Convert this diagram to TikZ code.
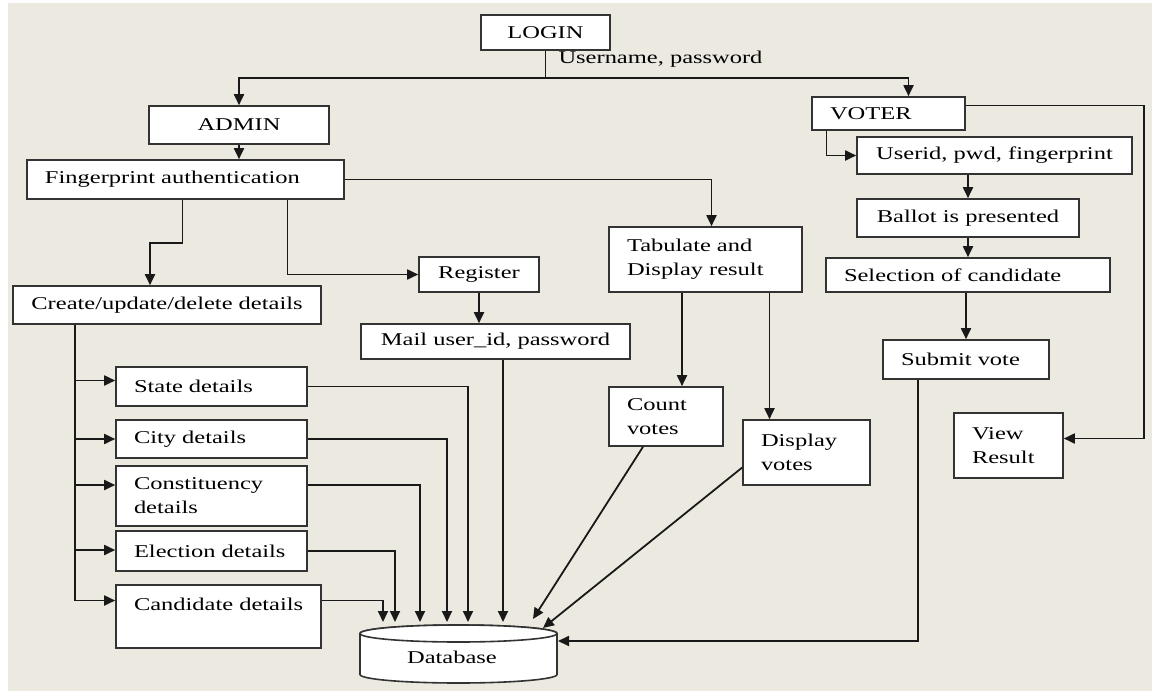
\documentclass[tikz,border=0pt]{standalone}
\usepackage{fontspec}
\setmainfont{Liberation Serif}[FakeStretch=1.36]
\usepackage{xcolor}
\usetikzlibrary{arrows.meta}

\definecolor{paper}{RGB}{236,234,224}
\newcommand{\boxfont}{\fontsize{18pt}{24pt}\selectfont}
\tikzset{
  box/.style={draw=black!80, fill=white, line width=1.6pt, font=\boxfont, inner ysep=2pt},
  cbox/.style={box, align=center},
  lbox/.style={box, align=left, inner xsep=18pt},
  flow/.style={line width=1.8pt, draw=black!90}
}

\begin{document}
\begin{tikzpicture}[x=1pt,y=-1pt,>={Triangle[length=11pt,width=10pt]}]
\useasboundingbox (0,0) rectangle (1152,691);
\fill[paper] (8,3) rectangle (1152,691);

% login, admin and voter
\node[cbox, minimum width=129pt, minimum height=35pt] (login) at (545.5,32.5) {LOGIN};
\node[anchor=west, font=\boxfont] (creds) at (555,59) {Username, password};
\node[cbox, minimum width=180pt, minimum height=38pt] (admin) at (239,125) {ADMIN};
\node[lbox, text width=117pt, minimum height=33pt] (voter) at (888.5,113.5) {VOTER};

% admin side
\node[lbox, text width=281pt, minimum height=39pt] (finger) at (185.5,179.5) {Fingerprint authentication};
\node[cbox, minimum width=308pt, minimum height=38pt] (create) at (167,305) {Create/update/delete details};
\node[cbox, minimum width=120pt, minimum height=35pt] (reg) at (479,274.5) {Register};
\node[cbox, minimum width=269pt, minimum height=35pt] (mail) at (495.5,341.5) {Mail user\_id, password};
\node[lbox, text width=157pt, minimum height=65pt] (tab) at (705.5,259.5) {Tabulate and\\Display result};
\node[lbox, text width=78pt, minimum height=59pt] (count) at (666,416.5) {Count\\votes};
\node[lbox, text width=91pt, minimum height=65pt] (disp) at (806.5,452.5) {Display\\votes};

\node[lbox, text width=155pt, minimum height=39pt] (state) at (211.5,386.5) {State details};
\node[lbox, text width=155pt, minimum height=38pt] (city) at (211.5,439) {City details};
\node[lbox, text width=155pt, minimum height=60pt] (const) at (211.5,496) {Constituency\\details};
\node[lbox, text width=155pt, minimum height=40pt] (elect) at (211.5,551) {\mbox{Election details}};
\node[lbox, text width=169pt, minimum height=63pt] (cand) at (218.5,616.5) {\mbox{Candidate details}\\\mbox{}};

% voter side
\node[cbox, minimum width=275pt, minimum height=37pt] (userid) at (994.5,155.5) {Userid, pwd, fingerprint};
\node[cbox, minimum width=222pt, minimum height=38pt] (ballot) at (968,218) {Ballot is presented};
\node[lbox, text width=248pt, minimum height=34pt] (select) at (968,275) {\mbox{Selection of candidate}};
\node[lbox, text width=130pt, minimum height=39pt] (submit) at (966,359.5) {\mbox{Submit vote}};
\node[lbox, text width=73pt, minimum height=65pt] (view) at (1008.5,445.5) {View\\Result};

% database
\draw[box] (360,633.5) -- (360,674.5)
  arc[start angle=180, end angle=360, x radius=98.5pt, y radius=8.5pt] -- (557,633.5)
  arc[start angle=0, end angle=180, x radius=98.5pt, y radius=8.5pt] -- cycle;
\draw[box] (458.5,633.5) ellipse[x radius=98.5pt, y radius=8.5pt];
\node[font=\boxfont] (db) at (452,657) {Database};

\coordinate (d1) at (383,622);
\coordinate (d2) at (395,622);
\coordinate (d3) at (420,622);
\coordinate (d4) at (447,622);
\coordinate (d5) at (468,622);
\coordinate (d6) at (503,622);
\coordinate (d7) at (533,619);
\coordinate (d8) at (543,628);
\coordinate (d9) at (558,641);

% connectors
\coordinate (fork) at (login.south |- 0,78);
\draw[flow] (login.south) -- (fork);
\draw[flow,->] (fork) -| (admin.north);
\draw[flow,->] (fork) -| ([xshift=20pt]voter.north);
\draw[flow,->] (admin.south) -- (admin.south |- finger.north);
\draw[flow,->] (finger.east) -| ([xshift=6pt]tab.north);
\draw[flow,->] ([xshift=-3pt]finger.south) -- ++(0,43) -| ([xshift=-17pt]create.north);
\draw[flow,->] ([xshift=102pt]finger.south) |- (reg.west);
\draw[flow,->] (reg.south) -- (reg.south |- mail.north);
\draw[flow,->] (mail.south -| d6) -- (d6);

\coordinate (trunk) at ([xshift=-92pt]create.south);
\foreach \b/\dy in {state/6,city/0,const/11,elect/1,cand/16}
  \draw[flow,->] (trunk) |- ([yshift=\dy pt]\b.west);

\draw[flow,->] (state.east) -| (d5);
\draw[flow,->] (city.east) -| (d4);
\draw[flow,->] ([yshift=11pt]const.east) -| (d3);
\draw[flow,->] (elect.east) -| (d2);
\draw[flow,->] ([yshift=16pt]cand.east) -| (d1);

\coordinate (cin) at ([xshift=16pt]count.north);
\coordinate (din) at ([xshift=-37pt]disp.north);
\draw[flow,->] (cin |- tab.south) -- (cin);
\draw[flow,->] (din |- tab.south) -- (din);
\draw[flow,->] ([xshift=-23pt]count.south) -- (d7);
\draw[flow,->] ([yshift=-15pt]disp.west) -- (d8);
\draw[flow,->] ([xshift=-48pt]submit.south) |- (d9);

\draw[flow,->] ([xshift=-62pt]voter.south) |- (userid.west);
\draw[flow,->] (ballot.north |- userid.south) -- (ballot.north);
\draw[flow,->] (ballot.south) -- (select.north);
\draw[flow,->] (submit.north |- select.south) -- (submit.north);
\draw[flow,->] ([yshift=8pt]voter.east) -- ++(178,0) |- ([yshift=7pt]view.east);
\end{tikzpicture}
\end{document}
